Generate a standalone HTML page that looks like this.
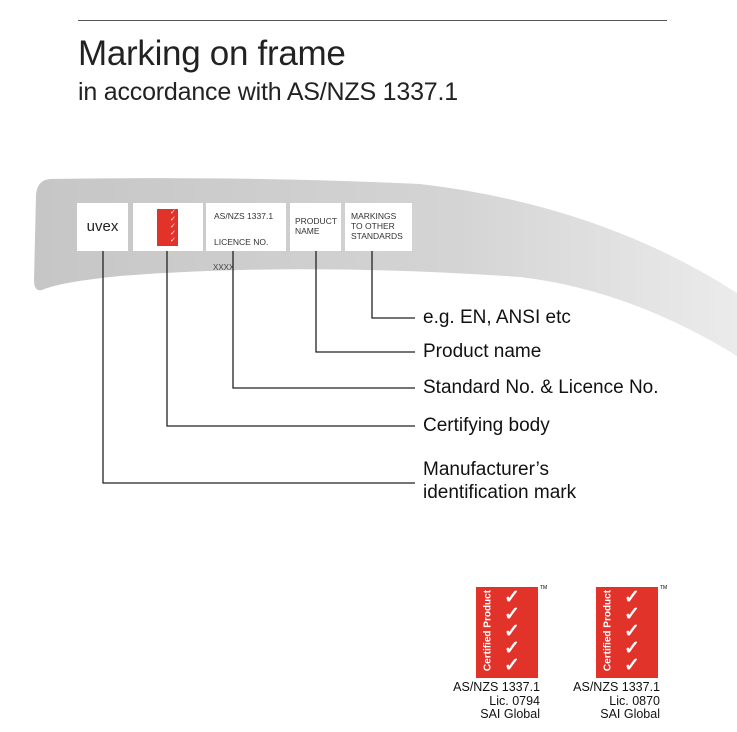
<!DOCTYPE html>
<html><head><style>
body{margin:0;width:737px;height:732px;background:#fff;font-family:"Liberation Sans",sans-serif;position:relative;overflow:hidden}
.a{position:absolute}
.box{position:absolute;background:#fff;top:203px;height:48px;font-size:8.5px;color:#333;line-height:10px}
.lbl{position:absolute;left:423px;font-size:19px;color:#111;white-space:nowrap}
.logo{position:absolute;top:587px;width:62px;height:91px;background:#e2332b;overflow:hidden}
.ltxt{position:absolute;top:681px;font-size:12.5px;line-height:13.5px;text-align:right;color:#111}
.cp{position:absolute;left:-33px;top:38px;width:90px;transform:rotate(-90deg);color:#fff;font-size:10px;font-weight:bold;white-space:nowrap;text-align:center}
</style></head><body>
<div class="a" style="left:78px;top:20px;width:589px;height:1px;background:#555"></div>
<div class="a" style="left:78px;top:34px;font-size:35px;color:#222;letter-spacing:-0.3px">Marking on frame</div>
<div class="a" style="left:78px;top:78px;font-size:25px;color:#222;letter-spacing:-0.2px">in accordance with AS/NZS 1337.1</div>
<svg class="a" style="left:0;top:0" width="737" height="732">
<defs><linearGradient id="g" x1="0" x2="1"><stop offset="0" stop-color="#c6c6c6"/><stop offset="0.6" stop-color="#d4d4d4"/><stop offset="1" stop-color="#ebebeb"/></linearGradient></defs>
<path d="M50 179 Q250 176 420 184 Q600 205 737 293 L737 356 Q630 290 520 277 Q300 262 120 276 Q60 282 42 290 Q34 292 34 280 L36 195 Q37 180 50 179Z" fill="url(#g)"/>
<g stroke="#222" stroke-width="1.3" fill="none">
<path d="M103 251V483H415"/><path d="M167 251V426H415"/><path d="M233 251V388H415"/><path d="M316 251V352H415"/><path d="M372 251V318H415"/>
</g>
</svg>
<div class="box" style="left:77px;width:51px;font-size:15px;line-height:48px;text-align:center;color:#222">uvex</div>
<div class="box" style="left:133px;width:70px"><div class="a" style="left:24px;top:6px;width:21px;height:37px;background:#e2332b"></div><div class="a" style="left:37px;top:6px;color:#fff;font-size:7px;line-height:7px;letter-spacing:-1px">✓<br>✓<br>✓<br>✓<br>✓</div></div>
<div class="box" style="left:206px;width:80px"><div class="a" style="left:8px;top:8px">AS/NZS 1337.1</div><div class="a" style="left:8px;top:34px">LICENCE NO.</div></div>
<div class="box" style="left:290px;width:51px"><div class="a" style="left:5px;top:13px">PRODUCT<br>NAME</div></div>
<div class="box" style="left:345px;width:67px"><div class="a" style="left:6px;top:8px">MARKINGS<br>TO OTHER<br>STANDARDS</div></div>
<div class="a" style="left:213px;top:263px;font-size:8px;color:#444">XXXX</div>
<div class="lbl" style="top:307px">e.g. EN, ANSI etc</div>
<div class="lbl" style="top:341px">Product name</div>
<div class="lbl" style="top:377px">Standard No. &amp; Licence No.</div>
<div class="lbl" style="top:415px">Certifying body</div>
<div class="lbl" style="top:458px;line-height:23px">Manufacturer’s<br>identification mark</div>
<div class="logo" style="left:476px"><div class="a" style="left:28px;top:2px;color:#fff;font-size:19px;line-height:17px;font-weight:bold">✓<br>✓<br>✓<br>✓<br>✓</div><div class="cp">Certified Product</div></div>
<div class="a" style="left:540px;top:585px;font-size:5px">TM</div>
<div class="logo" style="left:596px"><div class="a" style="left:28px;top:2px;color:#fff;font-size:19px;line-height:17px;font-weight:bold">✓<br>✓<br>✓<br>✓<br>✓</div><div class="cp">Certified Product</div></div>
<div class="a" style="left:660px;top:585px;font-size:5px">TM</div>
<div class="ltxt" style="left:440px;width:100px">AS/NZS 1337.1<br>Lic. 0794<br>SAI Global</div>
<div class="ltxt" style="left:560px;width:100px">AS/NZS 1337.1<br>Lic. 0870<br>SAI Global</div>
</body></html>
